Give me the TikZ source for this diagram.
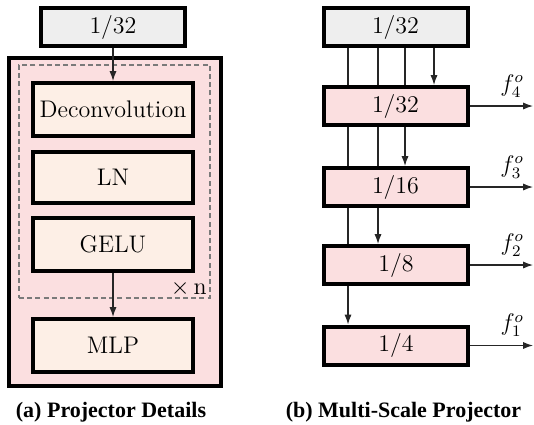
\documentclass[tikz,border=0pt]{standalone}
\usepackage{fontspec}
\setmainfont{Latin Modern Roman}
\newfontfamily\capfont{Liberation Serif}[BoldFont={Liberation Serif Bold}]
\usetikzlibrary{arrows.meta}
\pgfdeclarelayer{background}
\pgfsetlayers{background,main}
\definecolor{pinkfill}{HTML}{FBDFE0}
\definecolor{peachfill}{HTML}{FDEFE6}
\definecolor{grayfill}{HTML}{EEEEEE}
\definecolor{dashgray}{HTML}{7A7A7A}
\tikzset{
  box/.style={draw=black, line width=2pt, inner sep=0pt, font=\fontsize{12}{14}\selectfont},
  inbox/.style={box, fill=peachfill, minimum width=80pt, minimum height=26.5pt},
  graybox/.style={box, fill=grayfill, minimum width=72pt, minimum height=19pt},
  scalebox/.style={box, fill=pinkfill, minimum width=72pt, minimum height=19pt},
  conn/.style={line width=0.6pt, draw=black!85},
  arr/.style={conn, -{Latex[length=5pt,width=3.6pt]}},
  outlabel/.style={pos=0.67, above=4pt, inner sep=0pt, font=\fontsize{12}{14}\selectfont},
  caption/.style={font=\capfont\bfseries\fontsize{11}{13}\selectfont},
}
\begin{document}
\begin{tikzpicture}[x=0.5pt, y=-0.5pt]
\useasboundingbox (0,0) rectangle (534,424);
% ---------- (a) ----------
\node[box, fill=pinkfill, minimum width=106pt, minimum height=164pt] (outer) at (114.5,221.5) {};
\node[draw=dashgray, dash pattern=on 2.5pt off 1.6pt, line width=0.7pt, minimum width=95.5pt, minimum height=116.5pt, inner sep=0pt] (rep) at (114.5,181.5) {};
\node[graybox] (in1) at (113,27) {$1/32$};
\node[inbox] (deconv) at (113,109.5) {Deconvolution};
\node[inbox, minimum height=25.5pt] (ln) at (113,177.5) {LN};
\node[inbox] (gelu) at (113,244.5) {GELU};
\node[inbox] (mlp) at (113,345.5) {MLP};
\node[anchor=east, inner sep=0pt, font=\fontsize{12}{14}\selectfont] (xn) at (207,288) {$\times$\,n};
\draw[arr] (in1.south) -- (deconv.north);
\draw[arr] (gelu.south) -- (mlp.north);
\node[caption] (capa) at (111,412) {(a) Projector Details};
% ---------- (b) ----------
\node[graybox] (in2) at (395.5,27) {$1/32$};
\node[scalebox] (p32) at (395.5,106) {$1/32$};
\node[scalebox] (p16) at (395.5,187) {$1/16$};
\node[scalebox] (p8) at (396,265) {$1/8$};
\node[scalebox] (p4) at (396,345.5) {$1/4$};
\coordinate (cA) at (348,0);
\coordinate (cB) at (378,0);
\coordinate (cC) at (405,0);
\coordinate (cD) at (434,0);
\coordinate (o4) at (533,106);
\coordinate (o3) at (533,187);
\coordinate (o2) at (533,265);
\coordinate (o1) at (533,345.5);
\begin{pgfonlayer}{background}
\draw[arr] (in2.south -| cA) -- (p4.north -| cA);
\draw[arr] (in2.south -| cB) -- (p8.north -| cB);
\draw[arr] (in2.south -| cC) -- (p16.north -| cC);
\draw[arr] (in2.south -| cD) -- (p32.north -| cD);
\end{pgfonlayer}
\draw[arr] (p32.east) -- (o4) node[outlabel] {$f_4^o$};
\draw[arr] (p16.east) -- (o3) node[outlabel] {$f_3^o$};
\draw[arr] (p8.east) -- (o2) node[outlabel] {$f_2^o$};
\draw[arr] (p4.east) -- (o1) node[outlabel] {$f_1^o$};
\node[caption] (capb) at (403.5,412) {(b) Multi-Scale Projector};
\end{tikzpicture}
\end{document}
